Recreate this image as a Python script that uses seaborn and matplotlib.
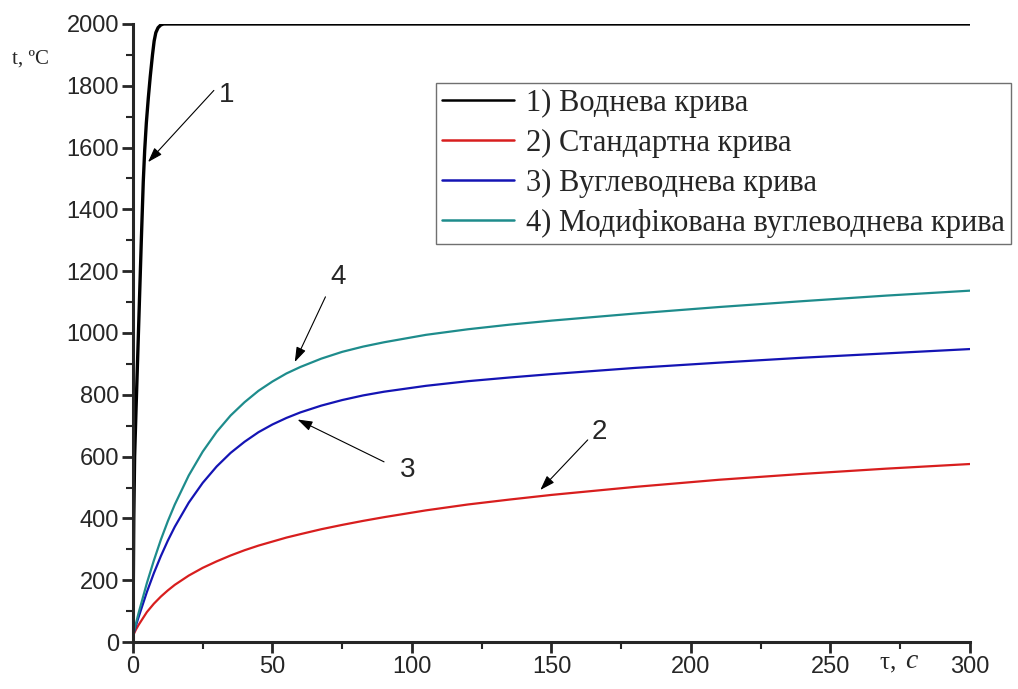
import pandas as pd
import seaborn as sns
import matplotlib.pyplot as plt
import matplotlib.ticker as ticker

# час, с / температура, °C
time_h = [0, 0.3, 0.6, 1.1, 2.0, 3.0, 3.7, 4.2, 4.8, 5.5, 6.2, 7.0, 7.6, 8.2, 9.0, 10.0, 11.0, 300]
temp_h = [20, 400, 600, 751, 1010, 1300, 1490, 1590, 1680, 1760, 1830, 1900, 1945, 1972, 1988,
          1997, 2000, 2000]

time_s = [0, 1, 2, 5, 7.5, 10, 12.5, 15, 20, 25, 30, 35, 40, 45, 50, 55, 60, 67.5, 75, 82.5,
          90, 105, 120, 135, 150, 180, 210, 240, 270, 300]
temp_std = [20, 39, 55, 97, 124, 147, 167, 185, 215, 240, 261, 280, 297, 312, 325, 338, 349,
            365, 379, 392, 404, 426, 445, 461, 476, 502, 525, 544, 561, 576]
temp_hc = [20, 51, 80, 162, 223, 278, 328, 373, 451, 515, 568, 612, 648, 679, 704, 725, 743,
           765, 783, 798, 810, 829, 844, 856, 867, 887, 904, 920, 934, 948]
temp_mhc = [20, 57, 93, 191, 264, 331, 391, 445, 539, 616, 680, 733, 776, 813, 843, 869, 890,
            917, 939, 956, 970, 994, 1012, 1027, 1040, 1063, 1084, 1103, 1121, 1137]

labels = ["1) Воднева крива", "2) Стандартна крива", "3) Вуглеводнева крива",
          "4) Модифікована вуглеводнева крива"]
colors = ["#000000", "#d81e1e", "#1414b4", "#1e8c8c"]
widths = [2.4, 1.6, 1.6, 1.6]

sns.set_style('ticks')
plt.rcParams['font.family'] = ['Liberation Sans', 'DejaVu Sans']

fig = plt.figure(figsize=(10.18, 6.89), dpi=100)
ax = fig.add_axes([0.1306, 0.0682, 0.8222, 0.897])

series = [(time_h, temp_h), (time_s, temp_std), (time_s, temp_hc), (time_s, temp_mhc)]
for (x, y), lab, c, w in zip(series, labels, colors, widths):
    df = pd.DataFrame({'t': x, 'T': y})
    sns.lineplot(data=df, x='t', y='T', ax=ax, color=c, lw=w, label=lab,
                 estimator=None, sort=False)

ax.set_xlim(0, 300)
ax.set_ylim(0, 2000)
ax.xaxis.set_major_locator(ticker.MultipleLocator(50))
ax.xaxis.set_minor_locator(ticker.MultipleLocator(25))
ax.yaxis.set_major_locator(ticker.MultipleLocator(200))
ax.yaxis.set_minor_locator(ticker.MultipleLocator(100))
ax.tick_params(which='major', length=8, width=2, labelsize=17, direction='out', pad=2)
ax.tick_params(which='minor', length=5, width=1.5, direction='out')
ax.set_xlabel("")
ax.set_ylabel("")
for s in ['top', 'right']:
    ax.spines[s].set_visible(False)
for s in ['left', 'bottom']:
    ax.spines[s].set_linewidth(2.2)

leg = ax.legend(loc='upper left', bbox_to_anchor=(0.362, 0.905), frameon=True,
                fancybox=False, edgecolor='#707070', framealpha=1,
                prop={'family': 'Liberation Serif', 'size': 22},
                handlelength=2.35, labelspacing=0.36, borderpad=0.2,
                handletextpad=0.4, borderaxespad=0)
leg.get_frame().set_linewidth(1.0)
for line in leg.get_lines():
    line.set_linewidth(1.8)

arrow = dict(arrowstyle='-|>,head_length=0.9,head_width=0.3', color='black',
             lw=0.8, shrinkA=0, shrinkB=0)
notes = [("1", (5.4, 1553), (29.0, 1785), (33.5, 1770)),
         ("2", (146, 492), (163, 654), (167, 680)),
         ("3", (59, 720), (90, 583), (98.5, 557)),
         ("4", (58, 906), (69, 1117), (73.5, 1181))]
for txt, head, tail, pos in notes:
    ax.annotate("", xy=head, xytext=tail, arrowprops=arrow)
    ax.text(pos[0], pos[1], txt, fontsize=20, ha='center', va='center')

fig.text(0.012, 0.915, "t, ºC", family='Liberation Serif', fontsize=15,
         ha='left', va='center')
fig.text(0.864, 0.038, "τ, ", family='Liberation Serif', fontsize=18,
         ha='left', va='center')
fig.text(0.889, 0.040, "с", family='Liberation Serif', fontsize=20,
         style='italic', ha='left', va='center')

fig.savefig("out.png", dpi=100)
